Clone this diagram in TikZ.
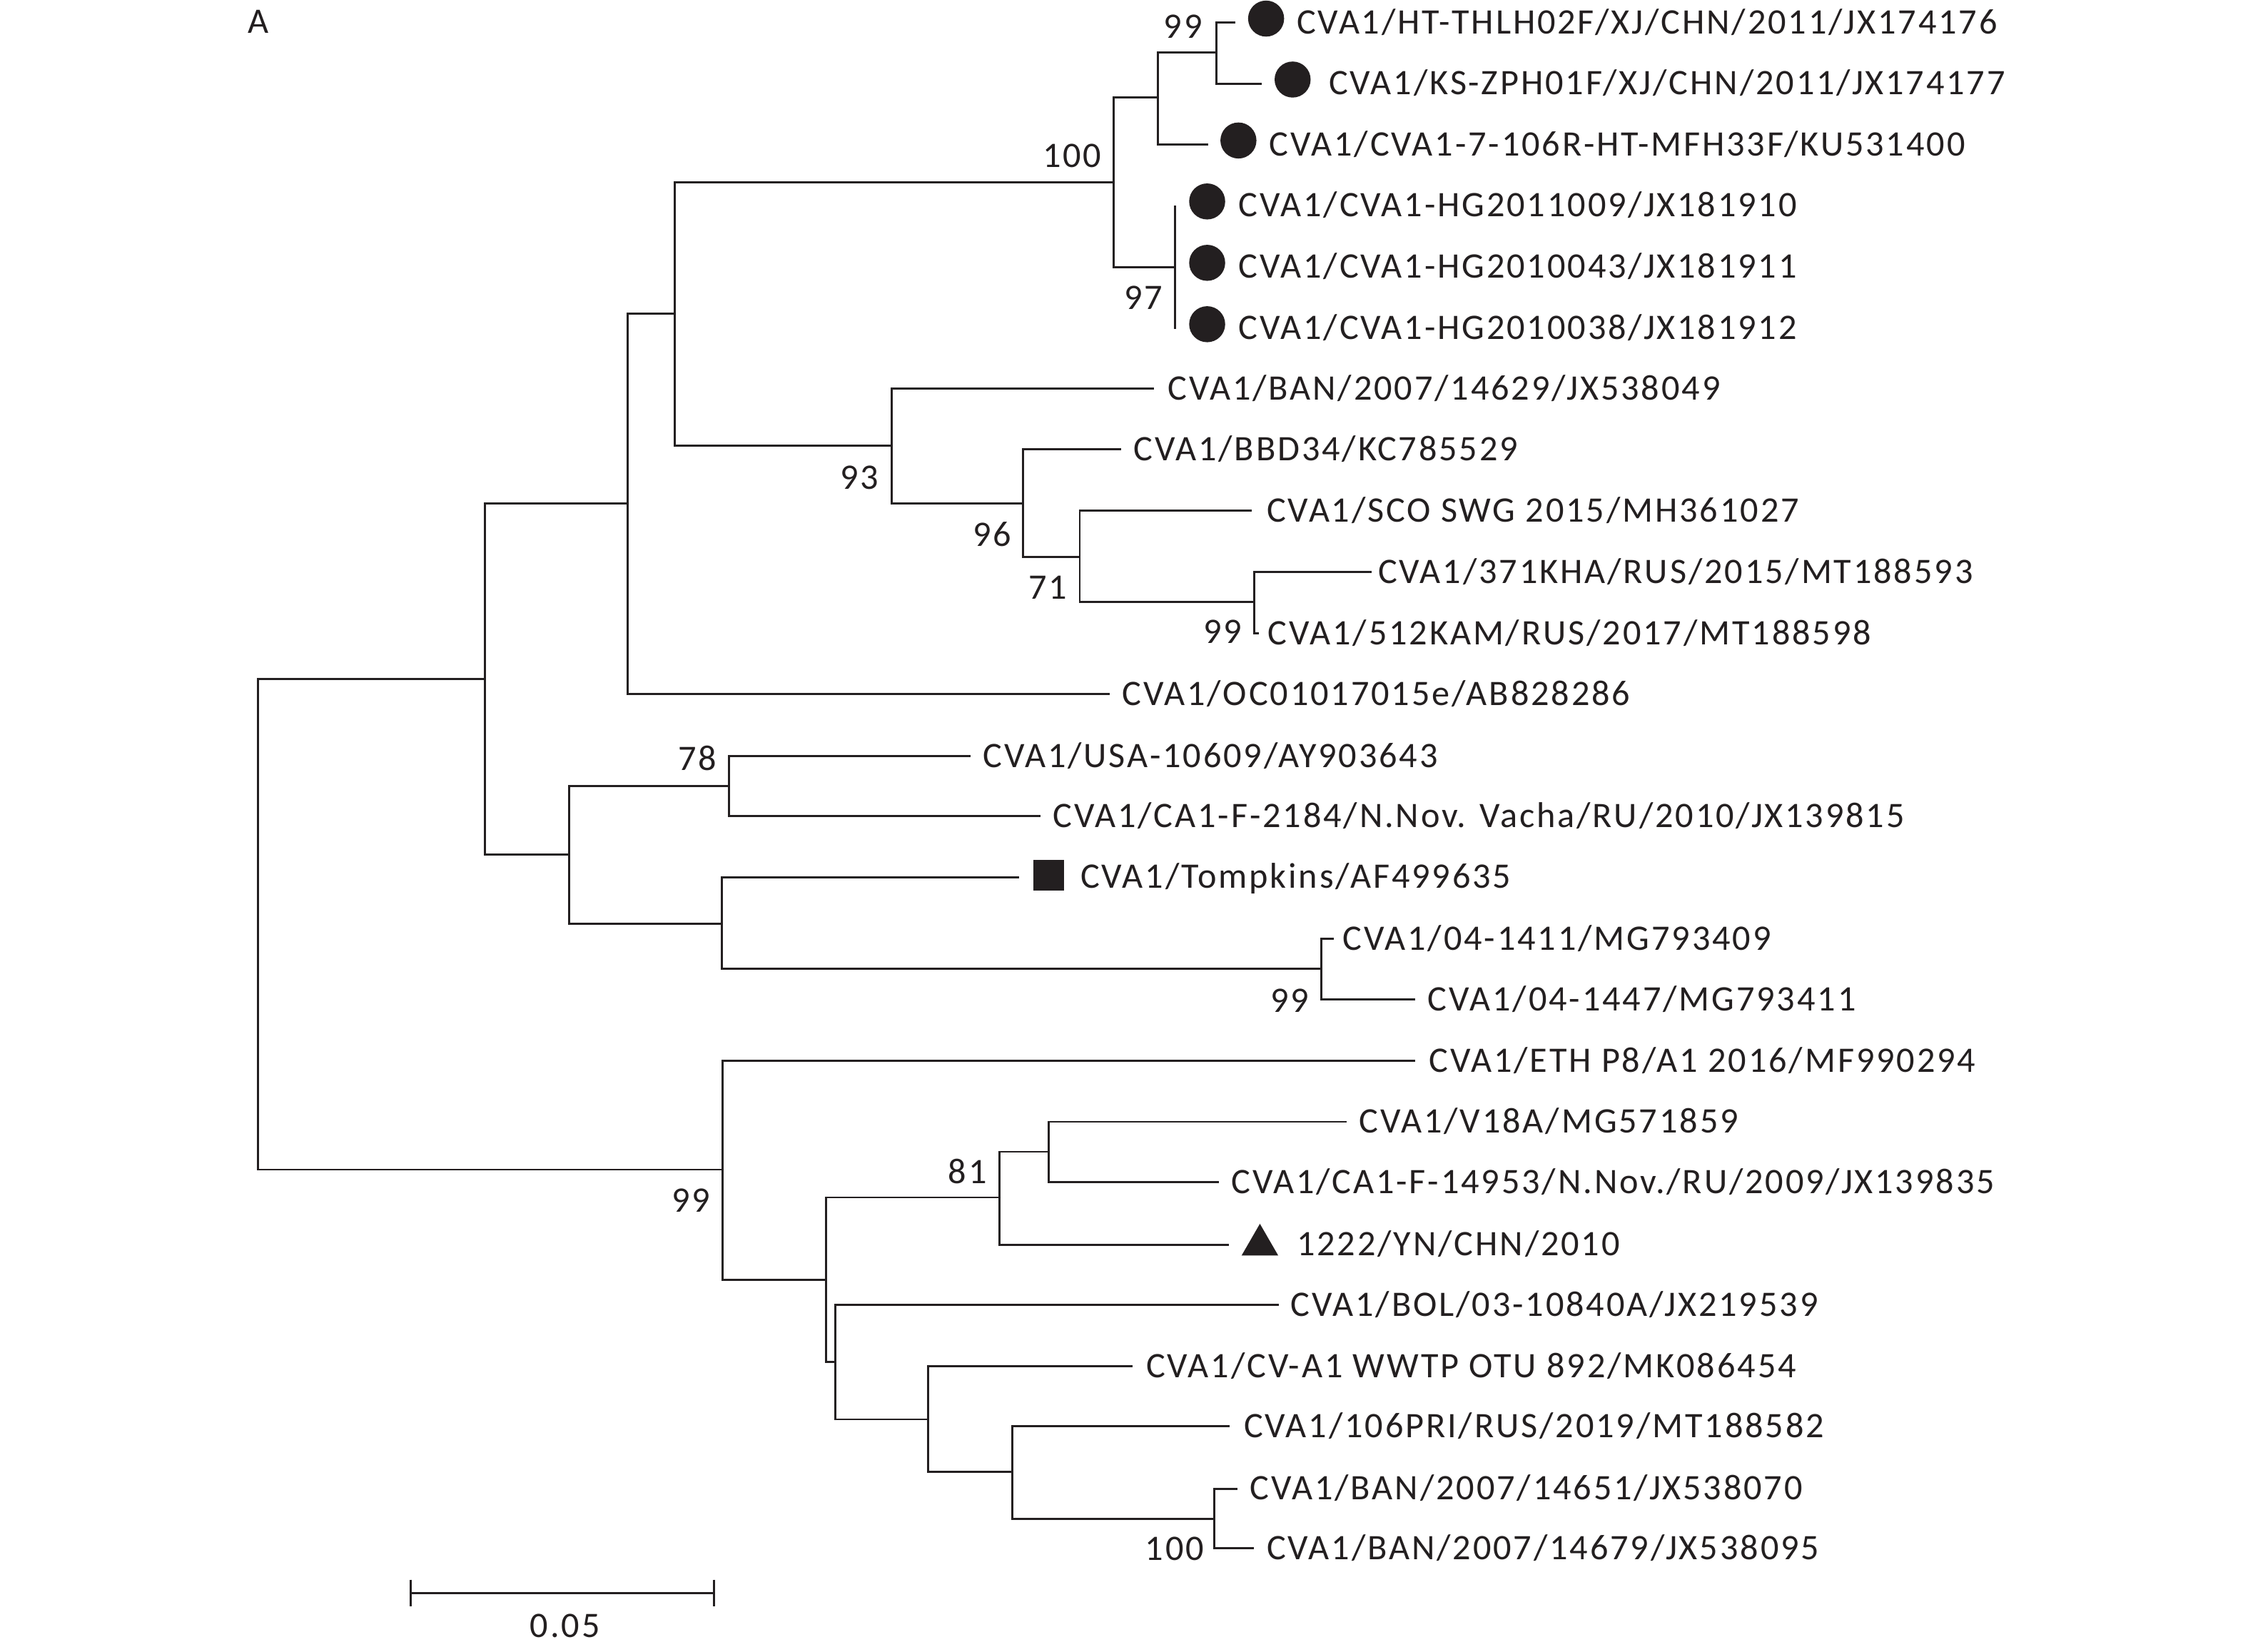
\documentclass[tikz,border=0pt]{standalone}
\usepackage{fontspec}
\setmainfont{Carlito}[LetterSpace=5.7]
\usetikzlibrary{shapes.geometric}
\definecolor{ink}{HTML}{231F20}
\begin{document}
\begin{tikzpicture}[x=1pt,y=-1pt,
  br/.style={draw=ink,line width=1.45pt},
  lbl/.style={inner sep=0pt,text=ink,font=\fontsize{24.9}{28}\selectfont,text height=16pt,text depth=0pt},
  leaf/.style={lbl,anchor=west},
  bs/.style={lbl,anchor=east},
  dotm/.style={circle,fill=ink,minimum size=25pt,inner sep=0pt},
  sqm/.style={rectangle,fill=ink,minimum size=21.5pt,inner sep=0pt},
  trim/.style={regular polygon,regular polygon sides=3,fill=ink,minimum size=29.4pt,inner sep=0pt}]
\useasboundingbox (0,0) rectangle (1560,1146);
% internal nodes
\coordinate (R) at (179.1,641);
\coordinate (U) at (336.3,471.2);
\coordinate (U1) at (435.6,349.6);
\coordinate (U11) at (468.2,217.7);
\coordinate (N100) at (772.8,126.7);
\coordinate (Na) at (803.6,67.7);
\coordinate (N99a) at (844.3,36.6);
\coordinate (N97) at (815.6,185.5);
\coordinate (N93) at (618.7,309.4);
\coordinate (N96) at (709.8,349.2);
\coordinate (N71) at (749.3,386.6);
\coordinate (N99b) at (870.2,417.6);
\coordinate (U2) at (395,592.9);
\coordinate (N78) at (506.1,545.5);
\coordinate (Nt) at (500.8,641);
\coordinate (N99c) at (917,672.5);
\coordinate (N99d) at (501.5,811.7);
\coordinate (Dn) at (573.4,888.2);
\coordinate (N81) at (693.5,831);
\coordinate (Nv) at (727.6,799.3);
\coordinate (Db) at (579.5,945.1);
\coordinate (Dc) at (644.2,985);
\coordinate (Dd) at (702.5,1021.6);
\coordinate (N100b) at (842.5,1054.2);
% leaf ends
\coordinate (e1) at (857.4,15.7);
\coordinate (e2) at (875.8,58.1);
\coordinate (e3) at (838.3,100.4);
\coordinate (e4) at (815.6,142.5);
\coordinate (e5) at (815.6,185.5);
\coordinate (e6) at (815.6,228.3);
\coordinate (e7) at (800.7,269.8);
\coordinate (e8) at (778,311.8);
\coordinate (e9) at (868.7,354.4);
\coordinate (e10) at (951.7,397.1);
\coordinate (e11) at (873.5,439.7);
\coordinate (e12) at (770.1,481.8);
\coordinate (e13) at (673.6,524.8);
\coordinate (e14) at (722,566.5);
\coordinate (e15) at (707.3,608.7);
\coordinate (e16) at (925.5,651.4);
\coordinate (e17) at (982.2,693.5);
\coordinate (e18) at (982.2,736.1);
\coordinate (e19) at (934.3,778.5);
\coordinate (e20) at (845.7,820.4);
\coordinate (e21) at (852.9,863.7);
\coordinate (e22) at (887.5,905.5);
\coordinate (e23) at (785.9,948.2);
\coordinate (e24) at (853.5,989.8);
\coordinate (e25) at (858.6,1033.1);
\coordinate (e26) at (870.2,1074.4);
% branches
\draw[br] (R) |- (U);
\draw[br] (R) |- (N99d);
\draw[br] (U) |- (U1);
\draw[br] (U) |- (U2);
\draw[br] (U1) |- (U11);
\draw[br] (U1) |- (e12);
\draw[br] (U11) |- (N100);
\draw[br] (U11) |- (N93);
\draw[br] (N100) |- (Na);
\draw[br] (N100) |- (N97);
\draw[br] (Na) |- (N99a);
\draw[br] (Na) |- (e3);
\draw[br] (N99a) |- (e1);
\draw[br] (N99a) |- (e2);
\draw[br] (N97) |- (e4);
\draw[br] (N97) |- (e6);
\draw[br] (N93) |- (e7);
\draw[br] (N93) |- (N96);
\draw[br] (N96) |- (e8);
\draw[br] (N96) |- (N71);
\draw[br] (N71) |- (e9);
\draw[br] (N71) |- (N99b);
\draw[br] (N99b) |- (e10);
\draw[br] (N99b) |- (e11);
\draw[br] (U2) |- (N78);
\draw[br] (U2) |- (Nt);
\draw[br] (N78) |- (e13);
\draw[br] (N78) |- (e14);
\draw[br] (Nt) |- (e15);
\draw[br] (Nt) |- (N99c);
\draw[br] (N99c) |- (e16);
\draw[br] (N99c) |- (e17);
\draw[br] (N99d) |- (e18);
\draw[br] (N99d) |- (Dn);
\draw[br] (Dn) |- (N81);
\draw[br] (Dn) |- (Db);
\draw[br] (N81) |- (Nv);
\draw[br] (N81) |- (e21);
\draw[br] (Nv) |- (e19);
\draw[br] (Nv) |- (e20);
\draw[br] (Db) |- (e22);
\draw[br] (Db) |- (Dc);
\draw[br] (Dc) |- (e23);
\draw[br] (Dc) |- (Dd);
\draw[br] (Dd) |- (e24);
\draw[br] (Dd) |- (N100b);
\draw[br] (N100b) |- (e25);
\draw[br] (N100b) |- (e26);
% markers
\node[dotm] (m1) at (878.6,12.9) {};
\node[dotm] (m2) at (897,55.2) {};
\node[dotm] (m3) at (859.4,97.5) {};
\node[dotm] (m4) at (837.7,139.8) {};
\node[dotm] (m5) at (837.7,182.4) {};
\node[dotm] (m6) at (837.7,225) {};
\node[sqm] (m15) at (727.8,607.5) {};
\node[trim] (m21) at (874.3,864) {};
% leaf labels
\node[leaf] (t1) at (899.8,15.5) {CVA1/HT-THLH02F/XJ/CHN/2011/JX174176};
\node[leaf] (t2) at (922,57.8) {CVA1/KS-ZPH01F/XJ/CHN/2011/JX174177};
\node[leaf] (t3) at (880.8,100.1) {CVA1/CVA1-7-106R-HT-MFH33F/KU531400};
\node[leaf] (t4) at (859.5,142.3) {CVA1/CVA1-HG2011009/JX181910};
\node[leaf] (t5) at (859.5,185) {CVA1/CVA1-HG2010043/JX181911};
\node[leaf] (t6) at (859.5,227.6) {CVA1/CVA1-HG2010038/JX181912};
\node[leaf] (t7) at (810.2,269.5) {CVA1/BAN/2007/14629/JX538049};
\node[leaf] (t8) at (786.5,311.6) {CVA1/BBD34/KC785529};
\node[leaf] (t9) at (879,354.2) {CVA1/SCO SWG 2015/MH361027};
\node[leaf] (t10) at (956.1,396.9) {CVA1/371KHA/RUS/2015/MT188593};
\node[leaf] (t11) at (879.7,439.4) {CVA1/512KAM/RUS/2017/MT188598};
\node[leaf] (t12) at (778.6,481.6) {CVA1/OC01017015e/AB828286};
\node[leaf] (t13) at (682,524.8) {CVA1/USA-10609/AY903643};
\node[leaf] (t14) at (730.6,566.3) {CVA1/CA1-F-2184/N.Nov. Vacha/RU/2010/JX139815};
\node[leaf] (t15) at (749.6,608.4) {CVA1/Tompkins/AF499635};
\node[leaf] (t16) at (931.8,651.2) {CVA1/04-1411/MG793409};
\node[leaf] (t17) at (990.7,693.3) {CVA1/04-1447/MG793411};
\node[leaf] (t18) at (991.5,735.9) {CVA1/ETH P8/A1 2016/MF990294};
\node[leaf] (t19) at (943,778.3) {CVA1/V18A/MG571859};
\node[leaf] (t20) at (854.3,820.2) {CVA1/CA1-F-14953/N.Nov./RU/2009/JX139835};
\node[leaf] (t21) at (899.7,863.5) {1222/YN/CHN/2010};
\node[leaf] (t22) at (895.6,905.3) {CVA1/BOL/03-10840A/JX219539};
\node[leaf] (t23) at (795.2,948) {CVA1/CV-A1 WWTP OTU 892/MK086454};
\node[leaf] (t24) at (863,989.6) {CVA1/106PRI/RUS/2019/MT188582};
\node[leaf] (t25) at (867.3,1032.9) {CVA1/BAN/2007/14651/JX538070};
\node[leaf] (t26) at (878.9,1074.2) {CVA1/BAN/2007/14679/JX538095};
% bootstrap values
\node[bs] (b1) at (834.5,18.6) {99};
\node[bs] (b2) at (764.5,108) {100};
\node[bs] (b3) at (807,206.8) {97};
\node[bs] (b4) at (610,331.6) {93};
\node[bs] (b5) at (702,371) {96};
\node[bs] (b6) at (740.7,407.5) {71};
\node[bs] (b7) at (862,438.5) {99};
\node[bs] (b8) at (497.4,526.8) {78};
\node[bs] (b9) at (908.5,694.5) {99};
\node[bs] (b10) at (493.2,833.3) {99};
\node[bs] (b11) at (684.9,813.1) {81};
\node[bs] (b12) at (835.6,1075) {100};
% panel letter
\node[leaf] (A) at (172,15) {A};
% scale bar
\coordinate (s1) at (285,1105.6);
\coordinate (s2) at (495.5,1105.6);
\draw[br] (s1) -- (s2);
\draw[br] ([yshift=9.4pt]s1) -- ([yshift=-9.4pt]s1);
\draw[br] ([yshift=9.4pt]s2) -- ([yshift=-9.4pt]s2);
\node[lbl,anchor=center] (sl) at (392.1,1128.3) {0.05};
\end{tikzpicture}
\end{document}
